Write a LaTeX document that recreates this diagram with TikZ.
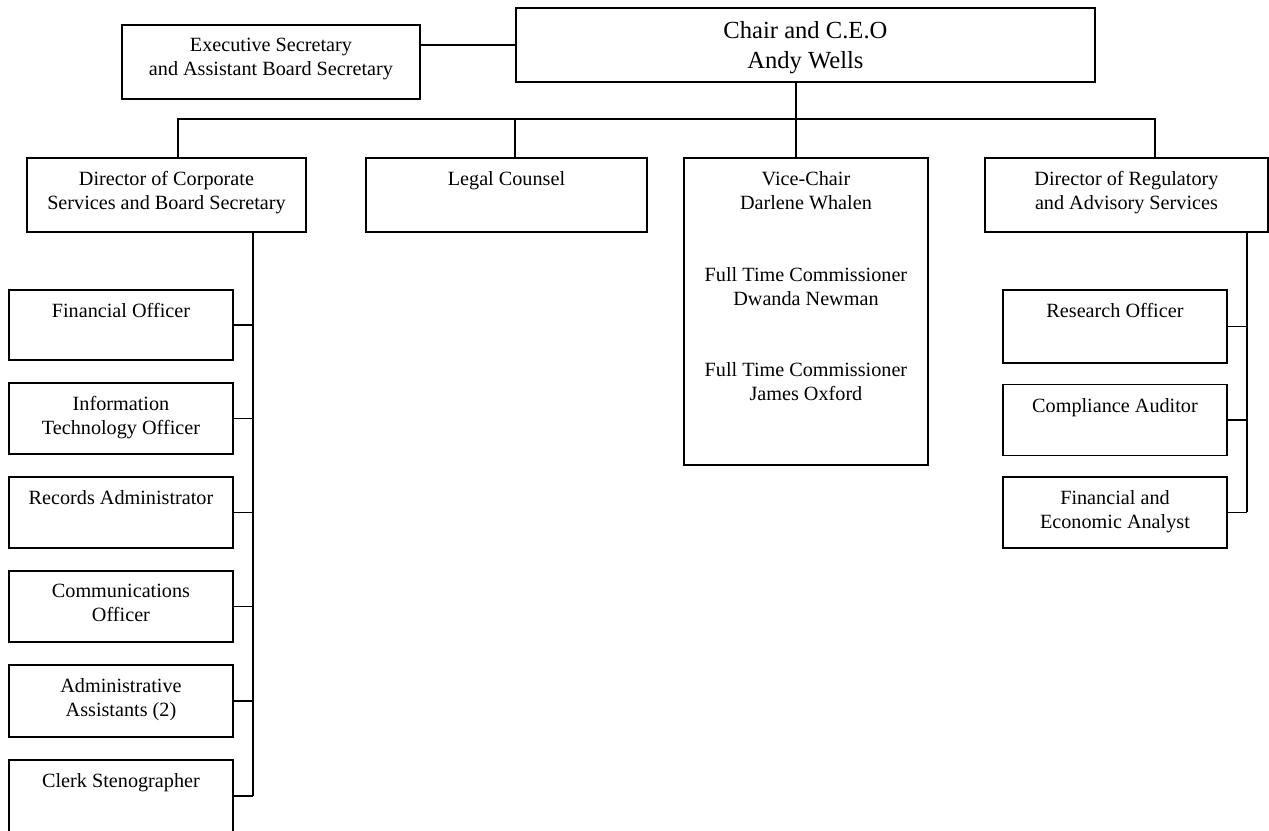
\documentclass[tikz,border=0pt]{standalone}
\usepackage{fontspec}
\setmainfont{Liberation Serif}
\usetikzlibrary{positioning}

\begin{document}
\begin{tikzpicture}[x=0.02cm, y=-0.02cm, line width=0.8pt]

	% Define styles
	\tikzset{
		unit/.style={draw, anchor=north west, inner sep=0pt, outer sep=0pt},
		cell/.style={draw, inner sep=0pt, outer sep=0pt, minimum width=4.48cm, minimum height=1.42cm},
		caption/.style={label={[anchor=north, yshift=-4pt, align=center, font=\fontsize{11.5}{13.6}\selectfont]north:{#1}}},
		bigcaption/.style={label={[anchor=north, yshift=-4pt, align=center, font=\fontsize{14}{17}\selectfont]north:{#1}}}
	}

	\useasboundingbox (0,0) rectangle (1269,831);

	% Top level
	\node[unit, minimum width=11.58cm, minimum height=1.48cm, bigcaption={Chair and C.E.O\\Andy Wells}] (chair) at (516,8) {};
	\node[unit, minimum width=5.96cm, minimum height=1.48cm, caption={Executive Secretary\\and Assistant Board Secretary}] (exec) at (122,25) {};

	% Second level
	\node[unit, minimum width=5.58cm, minimum height=1.48cm, caption={Director of Corporate\\Services and Board Secretary}] (corp) at (27,158) {};
	\node[unit, minimum width=5.62cm, minimum height=1.48cm, caption={Legal Counsel}] (legal) at (366,158) {};
	\node[unit, minimum width=4.88cm, minimum height=6.14cm, caption={Vice-Chair\\Darlene Whalen\\[27.2pt]Full Time Commissioner\\Dwanda Newman\\[27.2pt]Full Time Commissioner\\James Oxford}] (vice) at (684,158) {};
	\node[unit, minimum width=5.66cm, minimum height=1.48cm, caption={Director of Regulatory\\and Advisory Services}] (reg) at (985,158) {};

	% Corporate services column
	\begin{scope}[node distance=0.46cm]
		\node[cell, anchor=north west, minimum height=1.4cm, caption={Financial Officer}] (fin) at (9,290) {};
		\node[cell, below=of fin, caption={Information\\Technology Officer}] (it) {};
		\node[cell, below=of it, caption={Records Administrator}] (rec) {};
		\node[cell, below=of rec, caption={Communications\\Officer}] (comm) {};
		\node[cell, below=of comm, minimum height=1.44cm, caption={Administrative\\Assistants (2)}] (admin) {};
		\node[cell, below=of admin, minimum height=1.44cm, caption={Clerk Stenographer}] (clerk) {};
	\end{scope}

	% Regulatory services column
	\begin{scope}[node distance=0.43cm]
		\node[cell, anchor=north west, minimum height=1.46cm, caption={Research Officer}] (research) at (1003,290) {};
		\node[cell, below=of research, caption={Compliance Auditor}] (audit) {};
		\node[cell, below=of audit, caption={Financial and\\Economic Analyst}] (analyst) {};
	\end{scope}

	% Drop points
	\coordinate (dCorp) at (178,119);
	\coordinate (dLegal) at (515,119);
	\coordinate (dVice) at (796,119);
	\coordinate (dReg) at (1155,119);
	\coordinate (spineL) at (253,0);
	\coordinate (spineR) at (1247,0);

	% Lines
	\draw (exec.east |- chair.west) -- (chair.west);
	\draw (dVice |- chair.south) -- (dVice |- vice.north);
	\draw (dCorp |- corp.north) -- (dCorp) -- (dReg) -- (dReg |- reg.north);
	\draw (dLegal) -- (dLegal |- legal.north);

	\draw (spineL |- corp.south) -- (spineL |- clerk.east);
	\foreach \n in {fin, it, rec, comm, admin, clerk}
		\draw (\n.east) -- (\n.east -| spineL);

	\draw (spineR |- reg.south) -- (spineR |- analyst.east);
	\foreach \n in {research, audit, analyst}
		\draw (\n.east) -- (\n.east -| spineR);

\end{tikzpicture}
\end{document}
